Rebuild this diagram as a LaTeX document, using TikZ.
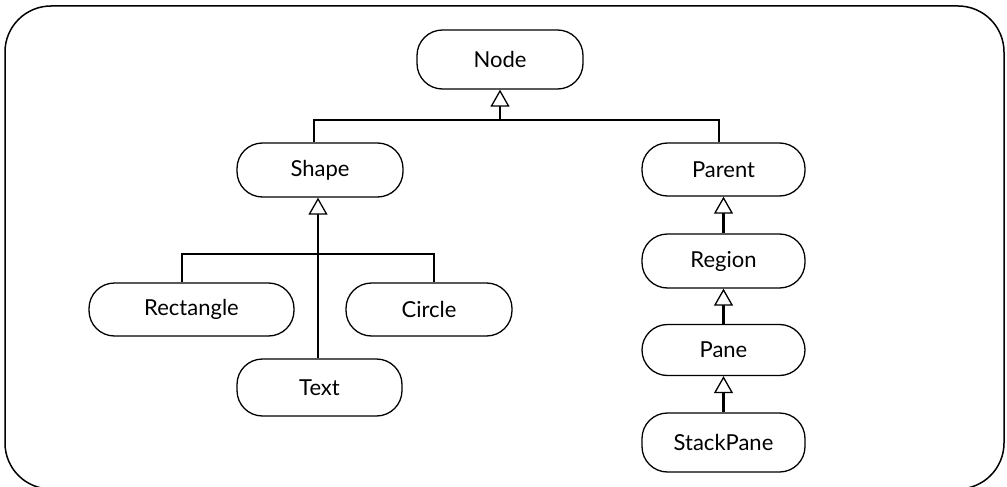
\documentclass[tikz,border=0pt]{standalone}
\usepackage{fontspec}
\setmainfont{Lato}
\usetikzlibrary{arrows.meta}
\tikzset{
  cls/.style={draw, line width=1.3pt, rounded corners=25.5pt, fill=white,
    inner sep=0pt, font=\fontsize{22}{22}\selectfont},
  conn/.style={line width=2.6pt},
  inh/.style={conn, -{Triangle[fill=white, length=17pt, width=19pt, line width=1.3pt]}},
  frame/.style={draw, line width=1.5pt, rounded corners=46pt}
}
\begin{document}
\begin{tikzpicture}[x=1pt, y=-1pt]
  \useasboundingbox (0,0) rectangle (1007,487);
  \path[frame] (5,6) rectangle (1004,489);

  % class boxes
  \node[cls, minimum width=166pt, minimum height=59pt] (node)  at (500,59.5)   {Node};
  \node[cls, minimum width=166pt, minimum height=54pt] (shape) at (320,170)    {Shape};
  \node[cls, minimum width=163pt, minimum height=53pt] (parent) at (723.5,169.5) {Parent};
  \node[cls, minimum width=205pt, minimum height=53pt] (rect)  at (191.5,309.5) {Rectangle};
  \node[cls, minimum width=166pt, minimum height=53pt] (circ)  at (429,309.5)  {Circle};
  \node[cls, minimum width=165pt, minimum height=57pt] (text)  at (319.5,387.5) {Text};
  \node[cls, minimum width=163pt, minimum height=54pt] (region) at (723.5,261) {Region};
  \node[cls, minimum width=163pt, minimum height=51pt] (pane)  at (723.5,350)  {Pane};
  \node[cls, minimum width=163pt, minimum height=59pt] (stack) at (723.5,442.5) {StackPane};

  % Node subclasses
  \coordinate (jtop) at (500,120);
  \draw[conn] ([xshift=-6pt]shape.north) |- (jtop) -| ([xshift=-4.5pt]parent.north);
  \draw[inh] (jtop) -- (node.south);

  % Shape subclasses
  \coordinate (jmid) at (318,254);
  \draw[conn] ([xshift=-9.5pt]rect.north) |- (jmid) -| ([xshift=5pt]circ.north);
  \draw[inh] ([xshift=-1.5pt]text.north) -- ([xshift=-1.5pt]text.north |- shape.south);

  % Parent chain
  \draw[inh] (region.north) -- (parent.south);
  \draw[inh] (pane.north) -- (region.south);
  \draw[inh] (stack.north) -- (pane.south);
\end{tikzpicture}
\end{document}
